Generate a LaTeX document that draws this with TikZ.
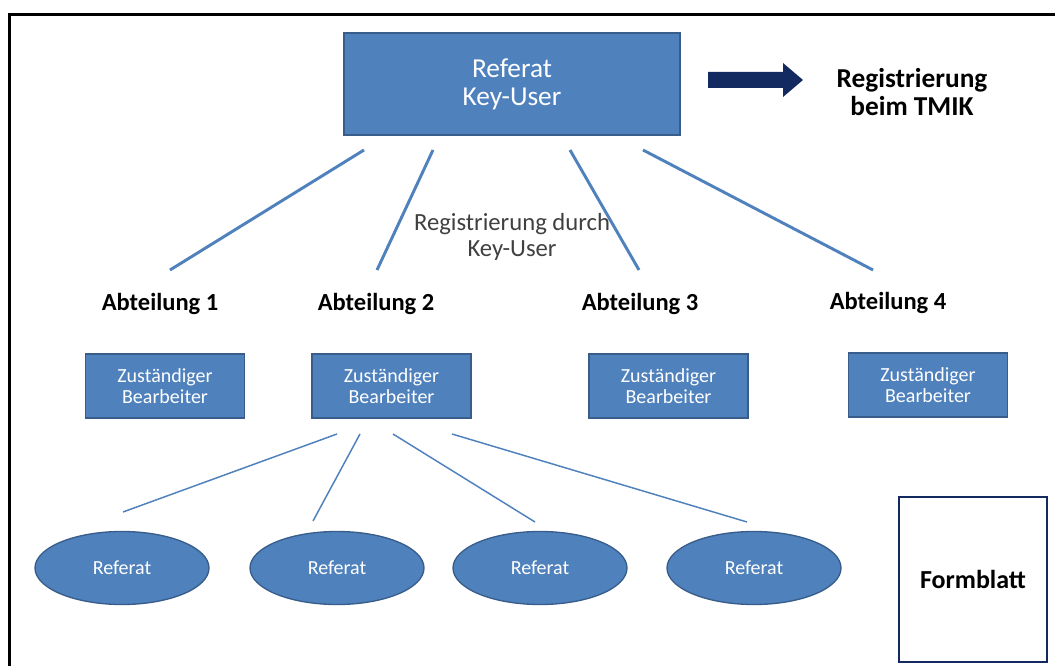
\documentclass[tikz,border=0pt]{standalone}
\usepackage{fontspec}
\setmainfont{Carlito}
\usetikzlibrary{shapes.geometric}
\definecolor{boxblue}{RGB}{79,129,189}
\definecolor{boxedge}{RGB}{56,93,138}
\definecolor{navy}{RGB}{18,42,96}
\definecolor{textgray}{RGB}{64,64,64}
\begin{document}
\begin{tikzpicture}[x=0.75pt,y=-0.75pt,
  bluebox/.style={draw=boxedge, line width=1pt, fill=boxblue, text=white, align=center, inner sep=0pt},
  keybox/.style={bluebox, minimum width=252pt, minimum height=76.5pt, font=\fontsize{20.5}{21}\selectfont},
  staffbox/.style={bluebox, minimum width=119.25pt, minimum height=48pt, font=\fontsize{15}{15.5}\selectfont},
  refoval/.style={bluebox, ellipse, minimum width=130.5pt, minimum height=54.75pt, font=\fontsize{15}{16}\selectfont},
  deptlabel/.style={font=\bfseries\fontsize{18.4}{20}\selectfont, text=black, inner sep=0pt},
  biglabel/.style={font=\bfseries\fontsize{20.5}{21}\selectfont, text=black, align=center, inner sep=0pt},
  notelabel/.style={font=\fontsize{18.5}{19}\selectfont, text=textgray, align=center, inner sep=0pt},
  formbox/.style={draw=navy, line width=1.6pt, fill=white, minimum width=111pt, minimum height=123.75pt, font=\bfseries\fontsize{19.5}{21}\selectfont, inner sep=0pt},
  thickline/.style={draw=boxblue, line width=2.2pt},
  thinline/.style={draw=boxblue, line width=1.1pt}
]
\useasboundingbox (0,0) rectangle (1055,666);
\fill[white] (0,0) rectangle (1055,666);
% outer frame
\draw[line width=2.3pt] (9.5,680) -- (9.5,14.5) -- (1070,14.5);

% top box and arrow
\node[keybox] (key) at (512,84) {Referat\\Key-User};
\fill[navy] (708,72) -- (783,72) -- (783,63) -- (803,80) -- (783,97) -- (783,88) -- (708,88) -- cycle;
\node[biglabel] (tmik) at (912,92) {Registrierung\\beim TMIK};

% connectors from key user
\coordinate (k1) at (364,150); \coordinate (d1) at (170,270);
\coordinate (k2) at (433,150); \coordinate (d2) at (377,270);
\coordinate (k3) at (570,150); \coordinate (d3) at (639,270);
\coordinate (k4) at (643,150); \coordinate (d4) at (873,270);
\draw[thickline] (k1) -- (d1);
\draw[thickline] (k2) -- (d2);
\draw[thickline] (k3) -- (d3);
\draw[thickline] (k4) -- (d4);

\node[notelabel] (durch) at (512,237) {Registrierung durch\\Key-User};

% departments
\node[deptlabel] (abt1) at (160,304) {Abteilung 1};
\node[deptlabel] (abt2) at (376,304) {Abteilung 2};
\node[deptlabel] (abt3) at (640,304) {Abteilung 3};
\node[deptlabel] (abt4) at (888,303) {Abteilung 4};

\node[staffbox] (b1) at (165,386) {Zuständiger\\Bearbeiter};
\node[staffbox] (b2) at (391.5,386) {Zuständiger\\Bearbeiter};
\node[staffbox] (b3) at (668.5,386) {Zuständiger\\Bearbeiter};
\node[staffbox] (b4) at (928,385) {Zuständiger\\Bearbeiter};

% referate
\node[refoval] (r1) at (122,568) {Referat};
\node[refoval] (r2) at (337,568) {Referat};
\node[refoval] (r3) at (540,568) {Referat};
\node[refoval] (r4) at (754,568) {Referat};

\coordinate (s1) at (337,434); \coordinate (e1) at (123,512);
\coordinate (s2) at (360,434); \coordinate (e2) at (313,521);
\coordinate (s3) at (393,434); \coordinate (e3) at (535,522);
\coordinate (s4) at (452,434); \coordinate (e4) at (747,522);
\draw[thinline] (s1) -- (e1);
\draw[thinline] (s2) -- (e2);
\draw[thinline] (s3) -- (e3);
\draw[thinline] (s4) -- (e4);

% Formblatt
\node[formbox] (form) at (973,579.5) {Formblatt};
\end{tikzpicture}
\end{document}
